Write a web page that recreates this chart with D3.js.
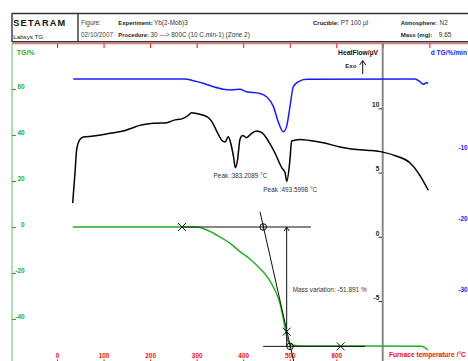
<!DOCTYPE html>
<html><head><meta charset="utf-8">
<script src="https://cdn.jsdelivr.net/npm/d3@7"></script>
<style>
body{margin:0;background:#fff;overflow:hidden}
svg{display:block;font-family:"Liberation Sans",Arial,sans-serif}
</style>
</head><body>
<svg id="c" width="468" height="361"></svg>
<script>
// ---- data ----
const tempTicks = [0,100,200,300,400,500,600,700,800];
const tempLabels = [0,100,200,300,400,500,600];
const tgTicks = [60,40,20,0,-20,-40];
const hfTicks = [10,5,0,-5];
const dtgTicks = [-10,-20,-30];

const tgTemp = [34,300,322,343,372,393,415,436,454,468,479,486,490,493.5,497,500.5,508,529,783,797];
const tgVal  = [0,0,-1.3,-3.5,-7.1,-10.7,-14,-18,-22.3,-27.4,-33.2,-39.7,-44,-47.7,-49.9,-50.9,-51.4,-51.7,-51.8,-53.5];

const hfTemp = [33.7,38.7,42.3,49.4,56.5,78,114,142,157,178,207,236,250,271,282,289,300,322,332,343,354,361,368,373,379,383.2,388,393,399,407,418,429,440,454,468,483,490,493.6,500.5,504,522,543,572,608,629,665,700,730,758,776,797.6];
const hfVal  = [2.63,5.0,6.8,7.58,7.76,7.84,8.05,8.23,8.41,8.67,8.83,8.88,9.06,9.22,9.45,9.66,9.59,9.35,9.0,8.23,7.52,7.37,7.79,7.32,6.27,5.37,6.02,7.58,7.89,7.71,8.05,8.23,8.1,7.45,6.54,5.37,4.98,4.32,6.02,7.45,7.58,7.5,7.32,6.99,6.85,6.74,6.59,6.27,5.76,4.98,3.62];

const dtgTemp = [35,275,293,314,336,357,375,393,407,436,450,465,475,486,493,500.5,507.6,518,536,769,780,787,792.7,797.6];
const dtgVal  = [0.15,0.15,-0.1,-0.45,-0.95,-1.3,-1.4,-1.3,-1.65,-1.9,-2.35,-3.75,-5.85,-7.3,-6.6,-3.75,-0.95,-0.25,0.1,0.15,-0.25,-0.6,-0.4,-0.45];

const peakTemps = [383.2089, 493.5998];
const massVariation = -51.891;
// construction points on TG: [temperature, TG%]
const xMarks = [[268.5,0],[493.4,-45.5],[609.5,-51.9]];
const oMarks = [[443,0],[500.5,-51.9]];
const topLine = [[268.5,0],[545.6,0]];
const bottomLine = [[443,-51.9],[661.7,-51.9]];
const tangent = [[436.1,6.65],[508.6,-58.5]];
const arrowLine = [[493.4,0],[493.4,-51.9]];

// ---- scales ----
const x = d3.scaleLinear().domain([0,800]).range([57,429.4]);
const yTG = d3.scaleLinear().domain([0,60]).range([227,89]);
const yHF = d3.scaleLinear().domain([0,10]).range([236.8,108.3]);
const yDTG = d3.scaleLinear().domain([0,-30]).range([80,293]);

const svg = d3.select('#c');
svg.append('rect').attr('width',468).attr('height',361).attr('fill','#fff');

const GREEN = '#22b022', GREEN_AX = '#77cc77', RED = '#ee1111', BLUE = '#1a1aff';
const FONT = '"Liberation Sans",Arial,sans-serif';

// ---- header ----
const hdr = svg.append('g');
hdr.append('line').attr('x1',12).attr('x2',468).attr('y1',13.5).attr('y2',13.5).attr('stroke','#333').attr('stroke-width',1.4);
hdr.append('line').attr('x1',12).attr('x2',468).attr('y1',41.8).attr('y2',41.8).attr('stroke','#333').attr('stroke-width',1.4);
hdr.append('line').attr('x1',12).attr('x2',12).attr('y1',13).attr('y2',42).attr('stroke','#333').attr('stroke-width',1.4);
hdr.append('line').attr('x1',78).attr('x2',78).attr('y1',13).attr('y2',42).attr('stroke','#333').attr('stroke-width',1.4);
function txt(xp,yp,s,size,weight,fill,anchor){
  return svg.append('text').attr('x',xp).attr('y',yp).text(s)
    .style('font-size',size+'px').style('font-weight',weight||'normal')
    .attr('fill',fill||'#222').attr('text-anchor',anchor||'start');
}
txt(13.3,26,'SETARAM',9.2,'900','#111').style('letter-spacing','1.2px');
txt(13.3,38.6,'Labsys TG',6.2,'normal','#111');
txt(81,24.6,'Figure:',6.4,'normal','#444');
txt(81,36.6,'02/10/2007',6.4,'normal','#444');
txt(118.3,24.6,'Experiment:',5.95,'bold','#222');
txt(154,24.6,'Yb(2-Mob)3',6.4,'normal','#333');
txt(118.3,36.6,'Procedure:',5.8,'bold','#222');
txt(150.5,36.6,'30 ---> 800C (10 C.min-1) (Zone 2)',6.4,'normal','#333');
txt(313,24.6,'Crucible:',6.0,'bold','#222');
txt(340.7,24.6,'PT 100 µl',6.4,'normal','#333');
txt(400.7,24.6,'Atmosphere:',5.9,'bold','#222');
txt(439.6,24.6,'N2',6.4,'normal','#333');
txt(400.7,36.6,'Mass (mg):',6.0,'bold','#222');
txt(438.8,36.6,'9.65',6.4,'normal','#333');

// ---- frame / axes ----
svg.append('line').attr('x1',12).attr('x2',468).attr('y1',43.6).attr('y2',43.6).attr('stroke','#f07070').attr('stroke-width',1.2);
const gTop = svg.append('g').attr('transform','translate(0,43.6)')
  .call(d3.axisBottom(x).tickValues(tempTicks).tickSize(4.5).tickFormat(''));
gTop.select('.domain').remove();
gTop.selectAll('line').attr('stroke',RED);

const gBot = svg.append('g').attr('transform','translate(0,361.5)')
  .call(d3.axisTop(x).tickValues(tempLabels).tickSize(2).tickPadding(2).tickFormat(d=>String(d)));
gBot.select('.domain').remove();
gBot.selectAll('line').attr('stroke',RED);
gBot.selectAll('text').attr('fill',RED).style('font-size','6.4px').style('font-weight','bold').style('font-family',FONT);
txt(389,357,'Furnace temperature /°C',6.6,'bold',RED);

// TG axis (left)
svg.append('line').attr('x1',12).attr('x2',12).attr('y1',43.6).attr('y2',361).attr('stroke',GREEN_AX).attr('stroke-width',1.2);
const gTG = svg.append('g').attr('transform','translate(12,0)')
  .call(d3.axisRight(yTG).tickValues(tgTicks).tickSize(4).tickFormat(d=>String(d)));
gTG.select('.domain').remove();
gTG.selectAll('line').attr('stroke',GREEN);
gTG.selectAll('text').attr('x',12.5).attr('text-anchor','end').attr('dy',0).attr('y',-0.6)
  .attr('fill',GREEN).style('font-size','6.4px').style('font-weight','bold').style('font-family',FONT);
txt(16.7,55,'TG/%',7,'bold',GREEN);

// HeatFlow axis (gray)
svg.append('line').attr('x1',382.7).attr('x2',382.7).attr('y1',44).attr('y2',361).attr('stroke','#888').attr('stroke-width',2);
const gHF = svg.append('g').attr('transform','translate(382,0)')
  .call(d3.axisLeft(yHF).tickValues(hfTicks).tickSize(3.5).tickFormat(d=>String(d)));
gHF.select('.domain').remove();
gHF.selectAll('line').attr('stroke','#333');
gHF.selectAll('text').attr('x',-2.8).attr('dy',0).attr('y',-1.8)
  .attr('fill','#222').style('font-size','6.4px').style('font-weight','bold').style('font-family',FONT);
txt(378,55.2,'HeatFlow/µV',6.7,'bold','#111','end');
txt(345.3,68.2,'Exo',6,'bold','#222');
svg.append('line').attr('x1',362.7).attr('x2',362.7).attr('y1',61).attr('y2',74).attr('stroke','#111').attr('stroke-width',1);
svg.append('path').attr('d','M359.7,65 L362.7,60.5 L365.7,65').attr('fill','none').attr('stroke','#111').attr('stroke-width',1);

// dTG axis (right edge)
const gD = svg.append('g').attr('transform','translate(467.6,0)')
  .call(d3.axisLeft(yDTG).tickValues(dtgTicks).tickSize(0).tickPadding(0).tickFormat(d=>String(d)));
gD.select('.domain').remove();
gD.selectAll('text').attr('x',0).attr('dy',0).attr('y',-1.8).attr('text-anchor','end')
  .attr('fill',BLUE).style('font-size','6.4px').style('font-weight','bold').style('font-family',FONT);
txt(430.7,55.2,'d TG/%/min',6.6,'bold',BLUE);

// ---- curves ----
const lineTG = d3.line().x(d=>x(d[0])).y(d=>yTG(d[1])).curve(d3.curveMonotoneX);
const lineHF = d3.line().x(d=>x(d[0])).y(d=>yHF(d[1])).curve(d3.curveMonotoneX);
const lineD = d3.line().x(d=>x(d[0])).y(d=>yDTG(d[1])).curve(d3.curveMonotoneX);
const straight = d3.line().x(d=>x(d[0])).y(d=>yTG(d[1]));

svg.append('path').datum(d3.zip(dtgTemp,dtgVal)).attr('d',lineD).attr('fill','none').attr('stroke',BLUE).attr('stroke-width',1.5);
svg.append('path').datum(d3.zip(hfTemp,hfVal)).attr('d',lineHF).attr('fill','none').attr('stroke','#000').attr('stroke-width',1.5);
svg.append('path').datum(d3.zip(tgTemp,tgVal)).attr('d',lineTG).attr('fill','none').attr('stroke',GREEN).attr('stroke-width',1.5);

// construction lines
[topLine,bottomLine,tangent,arrowLine].forEach(l=>{
  svg.append('path').datum(l).attr('d',straight).attr('fill','none').attr('stroke','#111').attr('stroke-width',1);
});
const ax = x(arrowLine[0][0]), ay = yTG(arrowLine[0][1]);
svg.append('path').attr('d',`M${ax-2.5},${ay+4} L${ax},${ay} L${ax+2.5},${ay+4}`).attr('fill','none').attr('stroke','#111').attr('stroke-width',1);
xMarks.forEach(m=>{
  const cx=x(m[0]), cy=yTG(m[1]);
  svg.append('path').attr('d',`M${cx-4},${cy-4}L${cx+4},${cy+4}M${cx-4},${cy+4}L${cx+4},${cy-4}`).attr('stroke','#111').attr('stroke-width',1);
});
oMarks.forEach(m=>{
  const cx=x(m[0]), cy=yTG(m[1]);
  svg.append('circle').attr('cx',cx).attr('cy',cy).attr('r',3.3).attr('fill','none').attr('stroke','#111').attr('stroke-width',1);
  svg.append('line').attr('x1',cx).attr('x2',cx).attr('y1',cy-3.3).attr('y2',cy+3.3).attr('stroke','#111').attr('stroke-width',0.8);
});

// annotations
const hfAt = t => hfVal[hfTemp.indexOf(t)];
txt(x(peakTemps[0])-21.8, yHF(hfAt(383.2))+10.3, 'Peak :'+peakTemps[0].toFixed(4)+' °C', 6.4,'normal','#333');
txt(x(peakTemps[1])-23.4, yHF(hfAt(493.6))+10.8, 'Peak :'+peakTemps[1].toFixed(4)+' °C', 6.4,'normal','#333');
txt(292.7, 292.2, 'Mass variation: '+massVariation.toFixed(3)+' %', 6.4,'normal','#333');
</script>
</body></html>
